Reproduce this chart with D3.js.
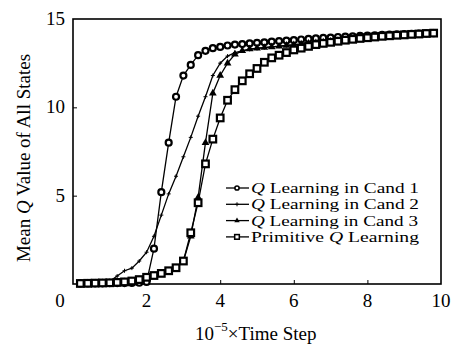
<!DOCTYPE html>
<html>
<head>
<meta charset="utf-8">
<script src="https://cdn.jsdelivr.net/npm/d3@7"></script>
<style>
  body { margin: 0; background: #fff; }
  svg { display: block; }
  text { font-family: "Liberation Serif", "Times New Roman", serif; fill: #000; }
</style>
</head>
<body>
<svg></svg>
<script>
// time step (x 10^5)
var steps = [0.2, 0.4, 0.6, 0.8, 1.0, 1.2, 1.4, 1.6, 1.8, 2.0,
    2.2, 2.4, 2.6, 2.8, 3.0, 3.2, 3.4, 3.6, 3.8, 4.0,
    4.2, 4.4, 4.6, 4.8, 5.0, 5.2, 5.4, 5.6, 5.8, 6.0,
    6.2, 6.4, 6.6, 6.8, 7.0, 7.2, 7.4, 7.6, 7.8, 8.0,
    8.2, 8.4, 8.6, 8.8, 9.0, 9.2, 9.4, 9.6, 9.8];

var cand1 = [0.03, 0.03, 0.04, 0.04, 0.05, 0.05, 0.05, 0.06, 0.07, 0.12,
    2.0, 5.2, 8.0, 10.6, 11.8, 12.4, 12.95, 13.2, 13.35, 13.42,
    13.5, 13.55, 13.58, 13.62, 13.65, 13.68, 13.72, 13.75, 13.78, 13.8,
    13.84, 13.87, 13.9, 13.93, 13.95, 13.98, 14.0, 14.02, 14.04, 14.06,
    14.08, 14.1, 14.12, 14.13, 14.15, 14.16, 14.18, 14.19, 14.2];

var cand2 = [0.05, 0.06, 0.07, 0.09, 0.15, 0.45, 0.75, 0.9, 1.3, 1.8,
    2.7, 3.9, 5.1, 6.1, 7.2, 8.3, 9.5, 10.6, 11.8, 12.5,
    12.9, 13.1, 13.2, 13.28, 13.33, 13.38, 13.42, 13.46, 13.5, 13.54,
    13.58, 13.62, 13.66, 13.7, 13.74, 13.78, 13.82, 13.86, 13.9, 13.94,
    13.98, 14.02, 14.05, 14.08, 14.1, 14.13, 14.15, 14.18, 14.2];

var cand3 = [0.03, 0.04, 0.05, 0.06, 0.07, 0.09, 0.12, 0.16, 0.22, 0.32,
    0.42, 0.55, 0.7, 0.9, 1.3, 2.7, 4.9, 8.0, 10.8, 11.8,
    12.5, 13.0, 13.2, 13.3, 13.35, 13.38, 13.42, 13.45, 13.5, 13.53,
    13.57, 13.61, 13.65, 13.69, 13.73, 13.77, 13.81, 13.85, 13.89, 13.93,
    13.97, 14.01, 14.04, 14.07, 14.1, 14.12, 14.15, 14.17, 14.2];

var primitive = [0.03, 0.04, 0.05, 0.06, 0.07, 0.09, 0.12, 0.17, 0.25, 0.38,
    0.48, 0.6, 0.75, 0.92, 1.3, 2.9, 4.6, 6.8, 8.2, 9.4,
    10.4, 11.0, 11.5, 11.9, 12.2, 12.55, 12.8, 12.95, 13.1, 13.25,
    13.35, 13.45, 13.55, 13.62, 13.68, 13.74, 13.8, 13.85, 13.9, 13.94,
    13.98, 14.02, 14.05, 14.08, 14.1, 14.13, 14.15, 14.18, 14.2];

var xTicks = [2, 4, 6, 8, 10];
var yTicks = [5, 10, 15];

var series = [
    {name: "cand1", values: cand1, marker: "circle"},
    {name: "cand2", values: cand2, marker: "plus"},
    {name: "cand3", values: cand3, marker: "dot"},
    {name: "primitive", values: primitive, marker: "square"}
];

var width = 457, height = 347;
var margin = {left: 73, right: 16, top: 19, bottom: 63};

var svg = d3.select("svg")
    .attr("width", width)
    .attr("height", height);

var x = d3.scaleLinear().domain([0, 10]).range([margin.left, width - margin.right]);
var y = d3.scaleLinear().domain([0, 15]).range([height - margin.bottom, margin.top]);

// axes, ticks pointing inward, labels drawn by hand below
svg.append("g")
    .attr("transform", "translate(0," + y(0) + ")")
    .call(d3.axisBottom(x).tickValues([2, 4, 6, 8]).tickSizeInner(-4).tickSizeOuter(0).tickFormat(""))
    .call(function(g) { g.select(".domain").remove(); });
svg.append("g")
    .attr("transform", "translate(" + x(0) + ",0)")
    .call(d3.axisLeft(y).tickValues([5, 10]).tickSizeInner(-4).tickSizeOuter(0).tickFormat(""))
    .call(function(g) { g.select(".domain").remove(); });

svg.append("rect")
    .attr("x", x(0))
    .attr("y", y(15))
    .attr("width", x(10) - x(0))
    .attr("height", y(0) - y(15))
    .attr("fill", "none")
    .attr("stroke", "#000")
    .attr("stroke-width", 1.6);

svg.selectAll(".xlab")
    .data(xTicks)
    .enter().append("text")
    .attr("x", function(d) { return x(d); })
    .attr("y", y(0) + 23)
    .attr("text-anchor", "middle")
    .attr("font-size", 19)
    .text(function(d) { return d; });

svg.selectAll(".ylab")
    .data(yTicks)
    .enter().append("text")
    .attr("x", x(0) - 8)
    .attr("y", function(d) { return y(d) + 6; })
    .attr("text-anchor", "end")
    .attr("font-size", 19)
    .text(function(d) { return d; });

// shared zero at the corner
svg.append("text")
    .attr("x", x(0) - 13)
    .attr("y", y(0) + 23)
    .attr("text-anchor", "middle")
    .attr("font-size", 19)
    .text("0");

// axis titles
var xt = svg.append("text")
    .attr("x", 195)
    .attr("y", 340)
    .attr("font-size", 19);
xt.append("tspan").text("10");
xt.append("tspan").attr("dy", -9).attr("font-size", 13).text("\u22125");
xt.append("tspan").attr("dy", 9).text("\u00d7Time Step");

var yt = svg.append("text")
    .attr("transform", "translate(30," + 158 + ") rotate(-90)")
    .attr("text-anchor", "middle")
    .attr("font-size", 19);
yt.append("tspan").text("Mean ");
yt.append("tspan").attr("font-style", "italic").text("Q");
yt.append("tspan").text(" Value of All States");

// lines
var line = d3.line()
    .x(function(d, i) { return x(steps[i]); })
    .y(function(d) { return y(d); });

svg.selectAll(".series")
    .data(series)
    .enter().append("path")
    .attr("d", function(s) { return line(s.values); })
    .attr("fill", "none")
    .attr("stroke", "#000")
    .attr("stroke-width", 1.3);

function drawMarker(g, type, cx, cy, k) {
    k = k || 1;
    if (type === "circle") {
        g.append("circle").attr("cx", cx).attr("cy", cy).attr("r", 3 * k)
            .attr("fill", "#fff").attr("stroke", "#000").attr("stroke-width", 2.2 * k);
    } else if (type === "square") {
        g.append("rect").attr("x", cx - 3.3 * k).attr("y", cy - 3.3 * k)
            .attr("width", 6.6 * k).attr("height", 6.6 * k)
            .attr("fill", "#fff").attr("stroke", "#000").attr("stroke-width", 2.2 * k);
    } else if (type === "dot") {
        g.append("path")
            .attr("d", d3.symbol().type(d3.symbolTriangle).size(26 * k * k)())
            .attr("transform", "translate(" + cx + "," + cy + ")")
            .attr("fill", "#000");
    } else {
        g.append("path")
            .attr("d", "M" + (cx - 2) + "," + cy + "H" + (cx + 2) + "M" + cx + "," + (cy - 2) + "V" + (cy + 2))
            .attr("stroke", "#000").attr("stroke-width", 1);
    }
}

var markers = svg.append("g");
series.forEach(function(s) {
    s.values.forEach(function(v, i) {
        drawMarker(markers, s.marker, x(steps[i]), y(v));
    });
});

// legend
var legendRows = [
    [{t: "Q", i: true}, {t: " Learning in Cand 1"}],
    [{t: "Q", i: true}, {t: " Learning in Cand 2"}],
    [{t: "Q", i: true}, {t: " Learning in Cand 3"}],
    [{t: "Primitive "}, {t: "Q", i: true}, {t: " Learning"}]
];
var legendWidths = [168, 168, 167, 168];
var legend = svg.append("g");
legendRows.forEach(function(row, k) {
    var ly = 188 + k * 16.3;
    legend.append("line")
        .attr("x1", 226).attr("x2", 249)
        .attr("y1", ly).attr("y2", ly)
        .attr("stroke", "#000").attr("stroke-width", 1.3);
    drawMarker(legend, series[k].marker, 237, ly, 0.7);
    var t = legend.append("text")
        .attr("x", 251)
        .attr("y", ly + 5)
        .attr("font-size", 14.6)
        .attr("textLength", legendWidths[k])
        .attr("lengthAdjust", "spacingAndGlyphs");
    row.forEach(function(p) {
        t.append("tspan").attr("font-style", p.i ? "italic" : null).text(p.t);
    });
});
</script>
</body>
</html>
